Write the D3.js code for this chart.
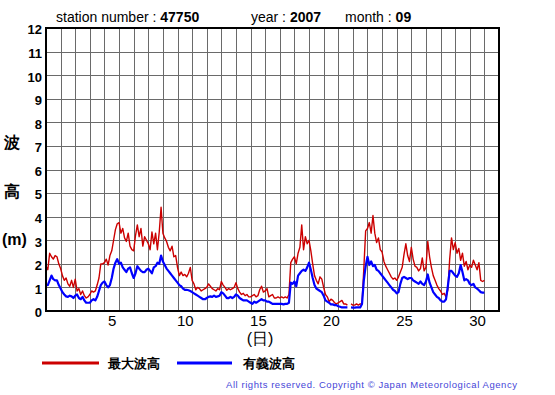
<!DOCTYPE html>
<html>
<head>
<meta charset="utf-8">
<script src="https://cdn.jsdelivr.net/npm/d3@7"></script>
<style>
  body { margin: 0; background: #fff; }
  text { font-family: "Liberation Sans", Arial, Helvetica, sans-serif; }
</style>
</head>
<body>
<script>
// station 47750, September 2007, values every 3 hours (8 per day) from day 1 00:00
var stationNo = "47750", year = "2007", month = "09";
var dayLabels = [5, 10, 15, 20, 25, 30];
var heightLabels = [0, 1, 2, 3, 4, 5, 6, 7, 8, 9, 10, 11, 12];
var stepsPerDay = 8;

// 最大波高 (max wave height, m)
var maxWave = [
  1.9, 1.75, 2.45, 2.3, 2.2, 2.35, 2.3, 2.0,
  1.8, 1.5, 1.3, 1.4, 1.15, 1.05, 1.3, 1.0,
  1.35, 0.85, 0.95, 0.7, 0.85, 0.65, 0.55, 0.6,
  0.7, 0.85, 0.8, 0.85, 1.1, 1.4, 2.0, 2.0,
  2.05, 2.2, 1.95, 2.35, 2.55, 3.0, 3.45, 3.7,
  3.75, 3.3, 3.5, 3.1, 2.95, 3.3, 2.75, 2.6,
  2.55, 3.2, 3.65, 3.15, 3.5, 2.75, 3.15, 3.0,
  2.85, 2.6, 3.35, 2.85, 3.3, 2.6, 3.35, 4.4,
  3.3, 3.1, 2.95, 2.7, 2.55, 2.75, 2.3, 2.35,
  1.85, 1.5, 1.65, 1.5, 1.55, 1.45, 1.6, 1.85,
  1.3, 1.15, 0.9, 1.0, 0.95, 0.85, 0.9, 0.95,
  1.0, 1.15, 1.05, 0.95, 0.9, 0.85, 0.95, 0.9,
  1.25, 1.1, 1.0, 0.88, 0.95, 0.9, 0.95, 1.0,
  1.2, 0.95, 0.8, 0.7, 0.75, 0.65, 0.7, 0.6,
  0.6, 0.65, 0.7, 0.6, 0.65, 0.9, 1.05, 0.8,
  0.85, 0.95, 0.6, 0.65, 0.7, 0.55, 0.55, 0.6,
  0.55, 0.6, 0.55, 0.6, 0.55, 0.7, 2.05, 2.2,
  2.3, 2.0, 2.45, 2.7, 3.65, 2.6, 3.15, 2.85,
  3.0, 2.55, 2.0, 1.5, 1.3, 1.15, 1.45, 1.35,
  1.0, 0.7, 0.6, 0.4, 0.5, 0.45, 0.35, 0.3,
  0.35, 0.4, 0.45, 0.3, 0.3, 0.25, null, 0.3,
  0.25, 0.25, 0.3, 0.25, 0.3, 0.3, 1.8, 3.4,
  3.5, 3.75, 3.3, 4.05, 3.3, 2.9, 3.1, 2.6,
  2.5, 2.1, 1.9, 1.75, 1.6, 1.45, 1.35, 1.4,
  1.3, 1.45, 1.65, 1.85, 2.4, 2.85, 2.35, 2.1,
  2.7, 2.2, 1.9, 1.85, 1.7, 1.8, 2.25, 1.7,
  1.85, 2.95, 2.3, 1.85, 1.5, 1.3, 1.1, 0.95,
  0.85, 0.7, 0.75, 0.6, 0.9, 2.2, 3.1, 2.6,
  2.9, 2.45, 2.65, 2.15, 2.45, 1.9, 2.1, 1.75,
  1.95, 1.85, 2.15, 1.95, 1.75, 2.05, 1.3, 1.25,
  1.3
];

// 有義波高 (significant wave height, m)
var sigWave = [
  1.08, 1.1, 1.3, 1.5, 1.35, 1.3, 1.3, 1.1,
  0.95, 0.8, 0.7, 0.62, 0.6, 0.65, 0.62, 0.55,
  0.65, 0.7, 0.55, 0.5, 0.6, 0.45, 0.35, 0.35,
  0.35, 0.45, 0.5, 0.45, 0.6, 0.85, 1.1, 1.2,
  1.25, 1.1, 1.0, 1.1, 1.4, 1.8, 2.05, 2.2,
  2.0, 2.05, 1.85, 1.75, 1.65, 1.8, 1.85, 1.6,
  1.4, 1.6, 1.9, 1.8, 1.7, 1.65, 1.65, 1.75,
  1.8, 1.7, 1.6, 1.85, 1.9, 2.05, 2.0, 2.35,
  2.1, 1.95, 1.8, 1.7, 1.6, 1.5, 1.4, 1.3,
  1.2, 1.1, 1.05, 0.95, 0.9, 0.9, 0.88, 0.85,
  0.8, 0.75, 0.7, 0.65, 0.6, 0.55, 0.5, 0.5,
  0.55, 0.6, 0.62, 0.6, 0.65, 0.6, 0.62, 0.65,
  0.8, 0.75, 0.65, 0.55, 0.55, 0.6, 0.55, 0.6,
  0.7, 0.65, 0.55, 0.5, 0.45, 0.45, 0.45, 0.4,
  0.35, 0.3, 0.4, 0.35, 0.4, 0.45, 0.5, 0.45,
  0.45, 0.4, 0.4, 0.35, 0.3, 0.3, 0.3, 0.3,
  0.3, 0.3, 0.28, 0.3, 0.3, 0.35, 1.2, 1.15,
  1.25, 1.05, 1.5, 1.6, 1.7, 1.75, 1.7, 1.85,
  2.05, 1.75, 1.4, 1.1, 0.95, 0.9, 0.85, 0.8,
  0.65, 0.45, 0.4, 0.35, 0.28, 0.28, 0.25, 0.25,
  0.2, 0.18, 0.15, 0.15, 0.15, 0.15, null, 0.15,
  0.14, 0.14, 0.15, 0.15, 0.15, 0.3, 1.3, 1.9,
  2.3, 1.95, 2.1, 1.9, 1.95, 1.75, 1.7, 1.6,
  1.5, 1.4, 1.3, 1.2, 1.1, 1.0, 0.9, 0.85,
  0.75, 0.8, 1.15, 1.4, 1.45, 1.4, 1.35, 1.4,
  1.4, 1.3, 1.25, 1.2, 1.15, 1.25, 1.15, 1.1,
  1.25, 1.55, 1.2, 1.0, 0.8, 0.7, 0.6, 0.55,
  0.45, 0.4, 0.4, 0.5, 1.05, 1.7, 1.7, 1.6,
  1.5, 1.45, 1.6, 1.95, 1.65, 1.3, 1.35, 1.3,
  1.15, 1.1, 1.15, 1.0, 0.95, 0.88, 0.8, 0.78,
  0.78
];

var width = 555, height = 395;
var x0 = 46, x1 = 499, y0 = 311, y1 = 28;

var x = d3.scaleLinear().domain([1, 32]).range([x0, x1]);
var y = d3.scaleLinear().domain([0, 12]).range([y0, y1]);

var svg = d3.select("body").append("svg")
    .attr("width", width)
    .attr("height", height);

// grid lines
svg.append("g")
    .attr("transform", "translate(0," + y0 + ")")
    .call(d3.axisBottom(x).tickValues(d3.range(2, 32)).tickSize(-(y0 - y1)).tickFormat(""))
    .call(function(g) { g.select(".domain").remove(); })
    .selectAll("line").attr("stroke", "#6a6a6a").attr("shape-rendering", "crispEdges");

svg.append("g")
    .attr("transform", "translate(" + x0 + ",0)")
    .call(d3.axisLeft(y).tickValues(d3.range(1, 12)).tickSize(-(x1 - x0)).tickFormat(""))
    .call(function(g) { g.select(".domain").remove(); })
    .selectAll("line").attr("stroke", "#6a6a6a").attr("shape-rendering", "crispEdges");

// series
function toPoints(arr) {
  return arr.map(function(v, i) { return {t: 1 + i / stepsPerDay, v: v}; });
}
var line = d3.line()
    .defined(function(d) { return d.v != null; })
    .x(function(d) { return x(d.t); })
    .y(function(d) { return y(d.v); });

svg.append("path")
    .datum(toPoints(maxWave))
    .attr("fill", "none")
    .attr("stroke", "#cc0000")
    .attr("stroke-width", 1.4)
    .attr("stroke-linejoin", "round")
    .attr("d", line);

svg.append("path")
    .datum(toPoints(sigWave))
    .attr("fill", "none")
    .attr("stroke", "#0000ff")
    .attr("stroke-width", 2.2)
    .attr("stroke-linejoin", "round")
    .attr("d", line);

// frame
svg.append("rect")
    .attr("x", x0).attr("y", y1)
    .attr("width", x1 - x0).attr("height", y0 - y1)
    .attr("fill", "none").attr("stroke", "#000").attr("stroke-width", 2);

// y labels
var yAxis = svg.append("g")
    .attr("transform", "translate(" + x0 + ",0)")
    .call(d3.axisLeft(y).tickValues(heightLabels).tickSize(0).tickPadding(4));
yAxis.select(".domain").remove();
yAxis.selectAll("text")
    .attr("font-family", "'Liberation Sans', Arial, sans-serif")
    .attr("font-size", 13).attr("font-weight", "bold").attr("fill", "#000")
    .attr("dy", "0.45em");

// x labels, centred on each day
var xAxis = svg.append("g")
    .attr("transform", "translate(0," + y0 + ")")
    .call(d3.axisBottom(x).tickValues(dayLabels.map(function(d) { return d + 0.5; }))
      .tickFormat(function(d) { return d - 0.5; }).tickSize(0).tickPadding(4));
xAxis.select(".domain").remove();
xAxis.selectAll("text")
    .attr("font-family", "'Liberation Sans', Arial, sans-serif")
    .attr("font-size", 15).attr("fill", "#000");

// titles
var title = svg.append("text").attr("y", 22).attr("font-size", 14);
title.append("tspan").attr("x", 56).text("station number : ");
title.append("tspan").attr("font-weight", "bold").text(stationNo);
var t2 = svg.append("text").attr("y", 22).attr("font-size", 14);
t2.append("tspan").attr("x", 251).text("year : ");
t2.append("tspan").attr("font-weight", "bold").text(year);
var t3 = svg.append("text").attr("y", 22).attr("font-size", 14);
t3.append("tspan").attr("x", 345).text("month : ");
t3.append("tspan").attr("font-weight", "bold").text(month);

// axis titles
var cjk = "'Noto Sans CJK JP', sans-serif";
svg.append("text").attr("x", 12).attr("y", 148).attr("text-anchor", "middle")
    .attr("font-family", cjk).attr("font-size", 16).attr("font-weight", "bold").text("波");
svg.append("text").attr("x", 12).attr("y", 197).attr("text-anchor", "middle")
    .attr("font-family", cjk).attr("font-size", 16).attr("font-weight", "bold").text("高");
svg.append("text").attr("x", 2).attr("y", 245)
    .attr("font-family", cjk).attr("font-size", 16).attr("font-weight", "bold").text("(m)");
svg.append("text").attr("x", 260).attr("y", 344).attr("text-anchor", "middle")
    .attr("font-family", cjk).attr("font-size", 16).text("(日)");

// legend
var legend = [
  {name: "最大波高", color: "#cc0000", x: 42, w: 57, tx: 108},
  {name: "有義波高", color: "#0000ff", x: 177, w: 55, tx: 243}
];
legend.forEach(function(l) {
  svg.append("line")
      .attr("x1", l.x).attr("x2", l.x + l.w).attr("y1", 363).attr("y2", 363)
      .attr("stroke", l.color).attr("stroke-width", 3);
  svg.append("text").attr("x", l.tx).attr("y", 368)
      .attr("font-family", cjk).attr("font-size", 13).attr("font-weight", "bold")
      .text(l.name);
});

svg.append("text").attr("x", 226).attr("y", 388)
    .attr("font-family", "'DejaVu Sans', sans-serif").attr("font-size", 9.5)
    .attr("fill", "#4646d8")
    .attr("textLength", 291).attr("lengthAdjust", "spacing")
    .text("All rights reserved. Copyright © Japan Meteorological Agency");
</script>
</body>
</html>
